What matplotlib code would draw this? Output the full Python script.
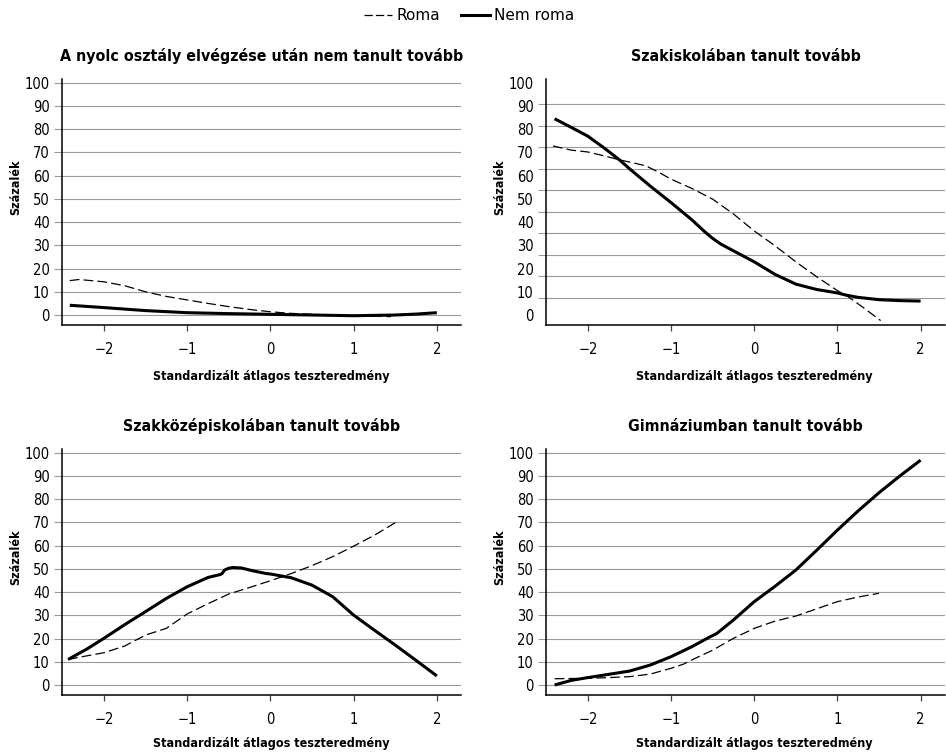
import numpy as np
import matplotlib
matplotlib.use("Agg")
import matplotlib.pyplot as plt
from matplotlib.lines import Line2D

plt.rcParams['font.family'] = ['DejaVu Sans']
plt.rcParams['font.stretch'] = 'condensed'
plt.rcParams['lines.scale_dashes'] = False

# ---------------- data ----------------
titles = [
    "A nyolc osztály elvégzése után nem tanult tovább",
    "Szakiskolában tanult tovább",
    "Szakközépiskolában tanult tovább",
    "Gimnáziumban tanult tovább",
]
series_names = ["Roma", "Nem roma"]
xlabel = "Standardizált átlagos teszteredmény"
ylabel = "Százalék"
x_ticks = [-2, -1, 0, 1, 2]
y_ticks = list(range(0, 101, 10))

# Panel 1: A nyolc osztály ...
p1_roma_x = [-2.41, -2.3, -2.0, -1.75, -1.5, -1.25, -1.0, -0.75, -0.5, -0.25, 0.0, 0.25, 0.5, 0.75, 1.0, 1.25, 1.45]
p1_roma_y = [14.8, 15.3, 14.3, 12.6, 10.0, 8.0, 6.5, 5.0, 3.6, 2.4, 1.4, 0.7, 0.3, 0.0, -0.3, -0.5, -0.7]
p1_nem_x = [-2.41, -2.0, -1.5, -1.0, -0.5, 0.0, 0.5, 1.0, 1.5, 1.75, 2.0]
p1_nem_y = [4.2, 3.2, 1.9, 1.0, 0.6, 0.3, 0.0, -0.3, 0.0, 0.4, 1.0]

# Panel 2: Szakiskola
p2_roma_x = [-2.42, -2.2, -2.0, -1.8, -1.62, -1.45, -1.3, -1.15, -1.0, -0.75, -0.5, -0.25, 0.0, 0.25, 0.5, 0.75, 1.0, 1.1, 1.3, 1.52]
p2_roma_y = [72.8, 71.0, 70.2, 68.5, 66.8, 65.5, 64.2, 61.5, 58.5, 54.5, 49.9, 43.5, 36.2, 29.8, 22.9, 16.5, 10.5, 8.6, 3.5, -2.4]
p2_nem_x = [-2.40, -2.2, -2.0, -1.8, -1.62, -1.5, -1.25, -1.0, -0.75, -0.6, -0.5, -0.4, -0.2, 0.0, 0.25, 0.5, 0.75, 1.0, 1.1, 1.25, 1.5, 1.75, 2.0]
p2_nem_y = [84.5, 80.8, 77.0, 71.8, 66.8, 63.0, 55.5, 48.4, 41.0, 36.0, 33.0, 30.5, 26.7, 22.9, 17.5, 13.3, 11.0, 9.5, 8.6, 7.6, 6.6, 6.2, 6.0]

# Panel 3: Szakközépiskola
p3_roma_x = [-2.43, -2.2, -2.0, -1.75, -1.5, -1.25, -1.0, -0.75, -0.5, -0.25, 0.0, 0.25, 0.5, 0.75, 1.0, 1.25, 1.5]
p3_roma_y = [11.0, 12.6, 13.9, 16.8, 21.5, 24.4, 30.6, 35.0, 39.2, 42.0, 44.9, 48.0, 51.4, 55.3, 59.8, 64.5, 69.9]
p3_nem_x = [-2.43, -2.2, -2.0, -1.75, -1.5, -1.25, -1.0, -0.75, -0.6, -0.58, -0.55, -0.5, -0.45, -0.35, -0.2, -0.05, 0.0, 0.25, 0.5, 0.75, 1.0, 1.25, 1.5, 1.75, 2.0]
p3_nem_y = [11.0, 15.6, 20.1, 26.0, 31.6, 37.3, 42.3, 46.3, 47.6, 48.0, 49.5, 50.3, 50.6, 50.4, 49.1, 48.0, 47.8, 46.2, 43.0, 38.0, 30.1, 23.6, 17.2, 10.6, 3.9]

# Panel 4: Gimnázium
p4_roma_x = [-2.40, -2.0, -1.75, -1.5, -1.25, -1.0, -0.85, -0.75, -0.5, -0.25, 0.0, 0.25, 0.5, 0.75, 1.0, 1.25, 1.5]
p4_roma_y = [2.7, 2.9, 3.2, 3.6, 4.7, 7.2, 9.0, 10.8, 15.0, 20.1, 24.4, 27.5, 29.7, 32.8, 35.9, 37.9, 39.5]
p4_nem_x = [-2.40, -2.2, -2.0, -1.75, -1.5, -1.25, -1.0, -0.75, -0.55, -0.45, -0.25, 0.0, 0.25, 0.5, 0.75, 1.0, 1.25, 1.5, 1.75, 2.0]
p4_nem_y = [0.0, 2.0, 3.2, 4.6, 6.0, 8.6, 12.2, 16.5, 20.4, 22.2, 28.0, 35.9, 42.5, 49.5, 58.0, 66.7, 75.0, 82.8, 90.0, 96.8]

panels = [
    (p1_roma_x, p1_roma_y, p1_nem_x, p1_nem_y),
    (p2_roma_x, p2_roma_y, p2_nem_x, p2_nem_y),
    (p3_roma_x, p3_roma_y, p3_nem_x, p3_nem_y),
    (p4_roma_x, p4_roma_y, p4_nem_x, p4_nem_y),
]

# ---------------- layout / style ----------------
W, H = 946, 754
fig = plt.figure(figsize=(W / 100, H / 100), dpi=100)

# axes boxes in pixels: (left, top, right, bottom)
boxes = [
    (62.3, 79.3, 461.0, 325.0),
    (546.3, 79.3, 944.7, 325.0),
    (62.3, 449.3, 461.0, 695.0),
    (546.3, 449.3, 944.7, 695.0),
]
GRID_C = '#9a9a9a'
TICK_FS = 10.5
TITLE_FS = 11.4
LABEL_FS = 9

for i, (box, title, data) in enumerate(zip(boxes, titles, panels)):
    l, t, r, b = box
    ax = fig.add_axes([l / W, 1 - b / H, (r - l) / W, (b - t) / H])
    rx, ry, nx, ny = data
    ax.plot(rx, ry, color='black', lw=0.9, dashes=(7, 3), solid_joinstyle='round')
    ax.plot(nx, ny, color='black', lw=2.2, solid_joinstyle='round', solid_capstyle='butt')

    ax.set_xlim(-2.5, 2.29)
    ax.set_ylim(-4.3, 101.5)
    ax.set_xticks(x_ticks)
    ax.set_xticklabels([f"{v}".replace('-', '\u2212') for v in x_ticks])
    ax.set_yticks(y_ticks)
    ax.set_yticklabels([str(v) for v in y_ticks])

    for s in ['top', 'right']:
        ax.spines[s].set_visible(False)
    for s in ['left', 'bottom']:
        ax.spines[s].set_linewidth(1.1)

    ax.tick_params(axis='x', length=4, width=0.9, color='#444444', pad=8, labelsize=TICK_FS)
    if i == 1:
        # in the reference, this panel's grid lines are spaced tighter than its labels
        grid_vals = [100 - 9.25 * k for k in range(11)]
        ax.tick_params(axis='y', which='major', length=0, pad=9, labelsize=TICK_FS)
        ax.set_yticks(grid_vals, minor=True)
        ax.tick_params(axis='y', which='minor', length=6, width=0.8, color=GRID_C)
        ax.grid(axis='y', which='minor', color=GRID_C, lw=0.8)
    else:
        ax.tick_params(axis='y', length=6, width=0.8, color=GRID_C, pad=3, labelsize=TICK_FS)
        ax.grid(axis='y', color=GRID_C, lw=0.8)
    ax.set_axisbelow(True)

    ax.set_title(title, fontsize=TITLE_FS, fontweight='bold', pad=13)
    ax.set_xlabel(xlabel, fontsize=LABEL_FS, fontweight='bold')
    ax.xaxis.set_label_coords(0.523, -0.183 if i < 2 else -0.171)
    ax.set_ylabel(ylabel, fontsize=LABEL_FS, fontweight='bold')
    ax.yaxis.set_label_coords(-0.100, 0.56)

handles = [
    Line2D([], [], color='black', lw=0.9, dashes=(6, 2.2)),
    Line2D([], [], color='black', lw=2.2),
]
fig.legend(handles, series_names, loc='center', bbox_to_anchor=(469 / W, 1 - 15.5 / H), ncol=2,
           frameon=False, prop={'size': 11, 'stretch': 'normal'},
           handlelength=1.85, handletextpad=0.3, columnspacing=1.4,
           borderpad=0, borderaxespad=0)

fig.savefig('out.png', dpi=100)
